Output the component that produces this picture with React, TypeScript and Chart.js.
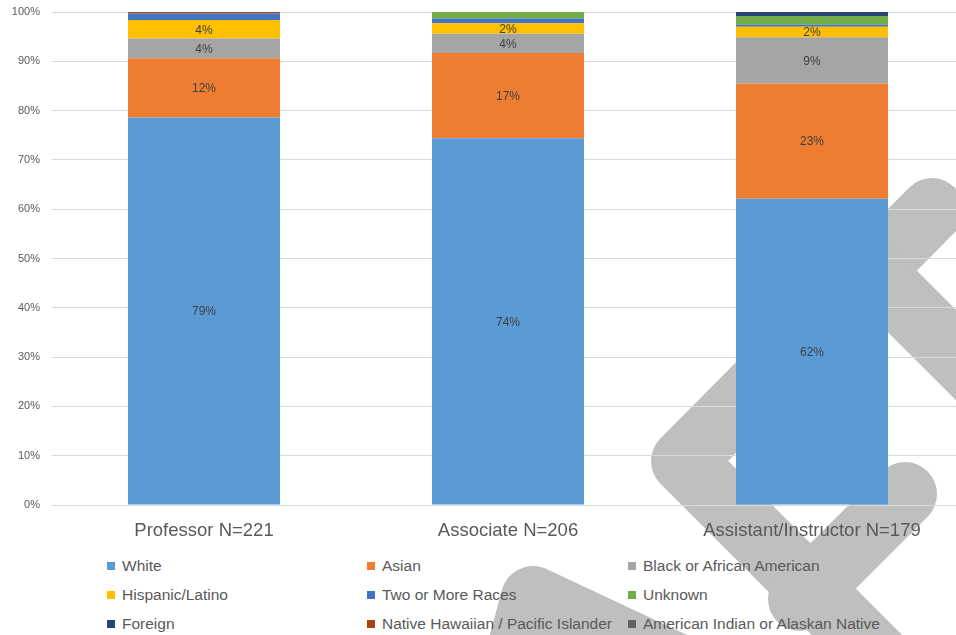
import React, { useEffect, useRef } from "react";
import { Chart, registerables } from "chart.js";

Chart.register(...registerables);

// ---- data ----
const categories = ["Professor N=221", "Associate N=206", "Assistant/Instructor N=179"];
const seriesNames = [
  "White",
  "Asian",
  "Black or African American",
  "Hispanic/Latino",
  "Two or More Races",
  "Unknown",
  "Foreign",
  "Native Hawaiian / Pacific Islander",
  "American Indian or Alaskan Native",
];
const white = [78.6, 74.4, 62.1];
const asian = [12.0, 17.3, 23.4];
const black = [4.0, 3.9, 9.4];
const hispanic = [3.8, 2.1, 2.1];
const twoOrMore = [1.3, 1.0, 0.4];
const unknown = [0, 1.3, 1.8];
const foreign = [0, 0, 0.8];
const nativeHawaiian = [0.3, 0, 0];
const americanIndian = [0, 0, 0];
const yTickValues = [0, 10, 20, 30, 40, 50, 60, 70, 80, 90, 100];
const labelledSeries = 4; // data labels shown on the first four series

const seriesValues = [white, asian, black, hispanic, twoOrMore, unknown, foreign, nativeHawaiian, americanIndian];
const seriesColors = [
  "#5B9BD5",
  "#ED7D31",
  "#A5A5A5",
  "#FFC000",
  "#4472C4",
  "#70AD47",
  "#264478",
  "#9E480E",
  "#636363",
];

const TEXT = "#595959";
const FONT = "'Liberation Sans', Arial, sans-serif";

const dataLabelPlugin = {
  id: "dataLabels",
  afterDatasetsDraw(chart: any) {
    const ctx = chart.ctx;
    ctx.save();
    ctx.font = `12px ${FONT}`;
    ctx.fillStyle = "#404040";
    ctx.textAlign = "center";
    ctx.textBaseline = "middle";
    for (let i = 0; i < labelledSeries; i++) {
      const meta = chart.getDatasetMeta(i);
      const values = chart.data.datasets[i].data as number[];
      meta.data.forEach((bar: any, j: number) => {
        const v = values[j];
        if (!v) return;
        const p = bar.getProps(["x", "y", "base"], true);
        ctx.fillText(Math.round(v) + "%", p.x, (p.y + p.base) / 2 + 1);
      });
    }
    ctx.restore();
  },
};

// decorative watermark that sits behind the chart in the reference picture
function Watermark() {
  return (
    <svg width={956} height={635} style={{ position: "absolute", left: 0, top: 0 }}>
      <g fill="none" stroke="#bfbfbf" strokeWidth={64} strokeLinecap="round" strokeLinejoin="round">
        <polyline points="932,210 683,461 930,708" />
        <polyline points="872,271 1010,409" />
        <polyline points="905,494 800,599" />
        <polyline points="505,700 533,598 680,667" />
      </g>
    </svg>
  );
}

export default function App() {
  const canvasRef = useRef<HTMLCanvasElement | null>(null);

  useEffect(() => {
    const canvas = canvasRef.current;
    if (!canvas) return;
    const chart = new Chart(canvas, {
      type: "bar",
      data: {
        labels: categories,
        datasets: seriesNames.map((name, i) => ({
          label: name,
          data: seriesValues[i],
          backgroundColor: seriesColors[i],
          borderWidth: 0,
          barPercentage: 0.5,
          categoryPercentage: 1,
        })),
      },
      options: {
        animation: false,
        responsive: false,
        devicePixelRatio: 1,
        layout: { autoPadding: false, padding: { top: 12, right: 6, left: 0, bottom: 0 } },
        plugins: {
          legend: { display: false },
          tooltip: { enabled: false },
          title: { display: false },
        },
        scales: {
          x: {
            stacked: true,
            grid: { display: false, drawTicks: false },
            border: { display: false },
            ticks: {
              color: TEXT,
              font: { size: 18.5, family: FONT },
              padding: 15,
              maxRotation: 0,
              autoSkip: false,
            },
            afterFit: (scale: any) => {
              scale.height = 40;
              scale.paddingLeft = 0;
              scale.paddingRight = 0;
            },
          },
          y: {
            stacked: true,
            min: 0,
            max: 100,
            afterBuildTicks: (scale: any) => {
              scale.ticks = yTickValues.map((v) => ({ value: v }));
            },
            grid: { color: "#d9d9d9", lineWidth: 1, drawTicks: false },
            border: { display: false },
            ticks: {
              color: TEXT,
              font: { size: 11, family: FONT },
              padding: 12,
              callback: (v: any) => v + "%",
            },
            afterFit: (scale: any) => {
              scale.width = 52;
              scale.paddingTop = 0;
              scale.paddingBottom = 0;
            },
          },
        },
      },
      plugins: [dataLabelPlugin],
    });
    return () => chart.destroy();
  }, []);

  const legendCols = [107, 367, 628];
  const legendRowTop = 556;
  const legendRowStep = 29;

  return (
    <div
      style={{
        position: "fixed",
        left: 0,
        top: 0,
        width: 956,
        height: 635,
        overflow: "hidden",
        background: "#ffffff",
      }}
    >
      <Watermark />
      <canvas
        ref={canvasRef}
        width={970}
        height={545}
        style={{ position: "absolute", left: 0, top: 0, width: 970, height: 545 }}
      />
      {seriesNames.map((name, i) => (
        <div
          key={name}
          style={{
            position: "absolute",
            left: legendCols[i % 3],
            top: legendRowTop + Math.floor(i / 3) * legendRowStep,
            height: 20,
            display: "flex",
            alignItems: "center",
            whiteSpace: "nowrap",
            fontFamily: FONT,
            fontSize: 15.5,
            color: TEXT,
          }}
        >
          <span
            style={{
              display: "inline-block",
              width: 8,
              height: 8,
              background: seriesColors[i],
              marginRight: 7,
            }}
          />
          {name}
        </div>
      ))}
    </div>
  );
}
